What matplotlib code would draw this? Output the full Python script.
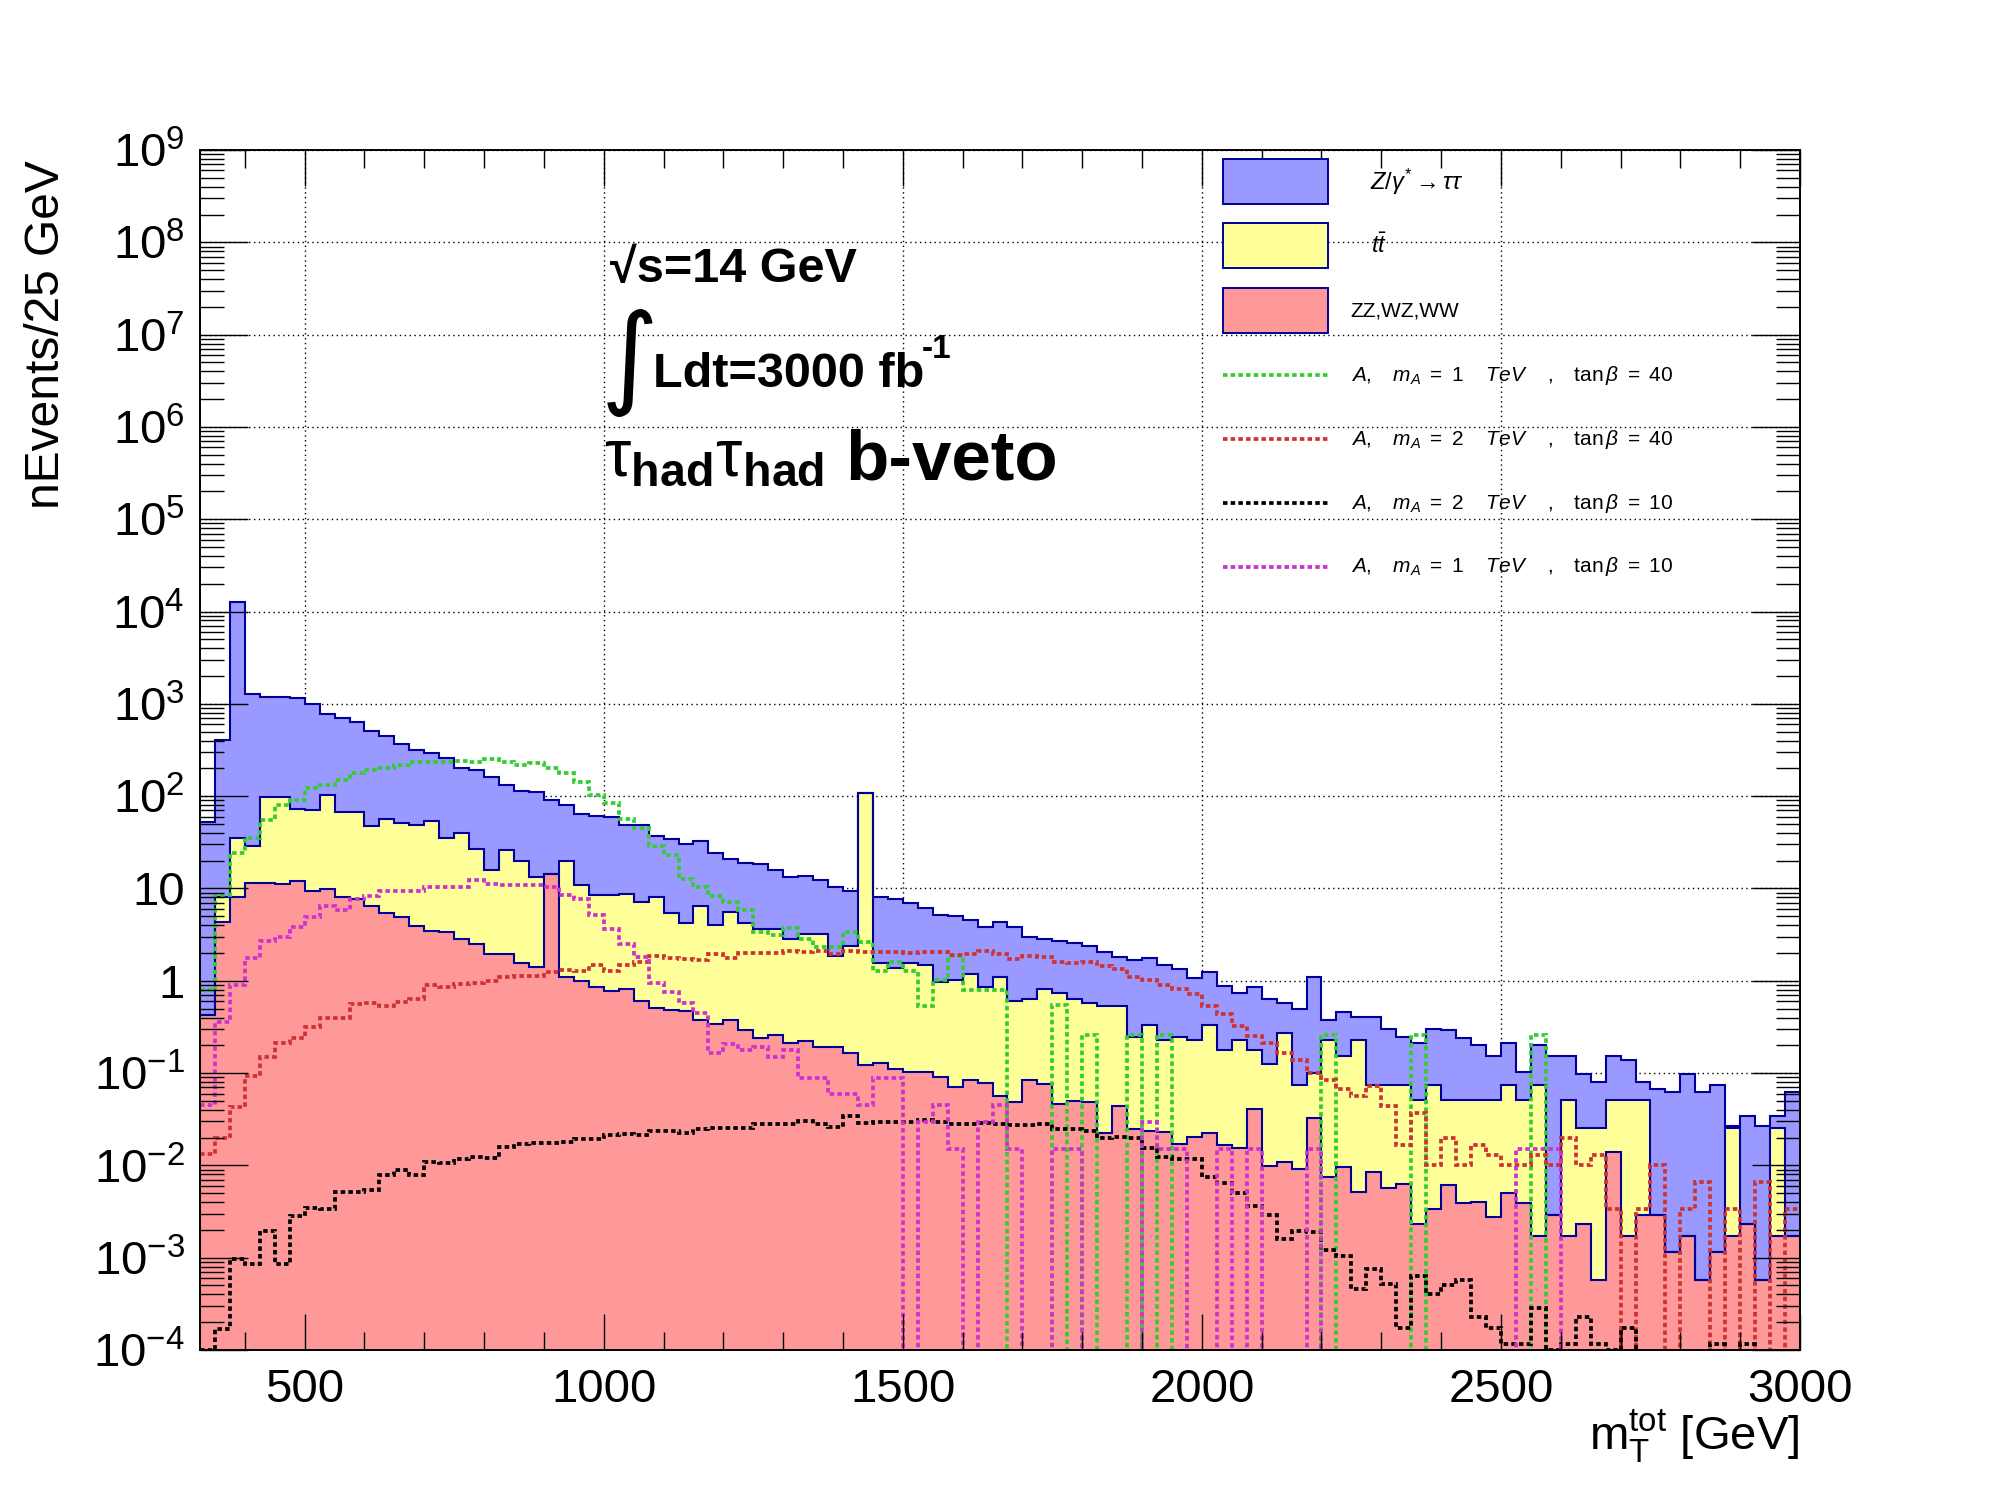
import numpy as np
import matplotlib
matplotlib.use("Agg")
import matplotlib.pyplot as plt
from matplotlib.ticker import LogLocator, MultipleLocator, NullFormatter
from matplotlib.patches import Rectangle
from matplotlib.lines import Line2D

plt.rcParams['font.family'] = ['Liberation Sans', 'DejaVu Sans']
plt.rcParams['mathtext.fontset'] = 'custom'
plt.rcParams['mathtext.rm'] = 'Liberation Sans'
plt.rcParams['mathtext.it'] = 'Liberation Sans:italic'
plt.rcParams['mathtext.bf'] = 'Liberation Sans:bold'

# ---------------- data ----------------
bin_edges = np.arange(325, 3001, 25)   # 107 bins of 25 GeV

ztautau = [51.6, 393, 12765, 1265, 1073, 1102, 1078, 921, 681, 644,
           566, 466, 397, 312, 264, 243, 221, 164, 167, 147.3,
           105, 95, 98.8, 75.8, 61, 53.1, 52.5, 50.6, 40.2, 41.8,
           28.6, 28.6, 25.8, 26.5, 20.5, 15.1, 14.5, 14.6, 12.1, 10.4,
           10.6, 9.0, 8.46, 6.9, 0, 6.46, 6.24, 5.36, 4.60, 4.12,
           3.95, 3.33, 2.93, 3.17, 3.18, 2.32, 2.0, 1.94, 1.91, 1.79,
           1.50, 1.26, 1.411, 1.422, 1.274, 1.081, 0.834, 0.902, 0.694, 0.504,
           0.674, 0.506, 0.305, 0.415, 1.011, 0.146, 0.302, 0.184, 0.335, 0.222,
           0.168, 0.159, 0.222, 0.239, 0.192, 0.153, 0.104, 0.135, 0.0514, 0.125,
           0.149, 0.101, 0.0718, 0.0558, 0.104, 0.0864, 0.0304, 0.0651, 0.0609, 0.0953,
           0.0614, 0.0739, 0.0018, 0.0317, 0.0264, 0.0088, 0.0603]

ttbar = [0, 3.64, 26.8, 17.4, 87.4, 86.7, 61.1, 60.5, 94.3, 59,
         59.4, 41.5, 51.6, 46.2, 45.1, 50.5, 31.6, 37.2, 24.5, 13.77,
         24.07, 18.43, 11.78, 0, 18.9, 9.9, 7.64, 7.63, 7.99, 6.59,
         7.49, 4.92, 3.73, 6.12, 3.66, 5.12, 3.91, 3.363, 3.344, 2.59,
         2.98, 3.01, 1.65, 2.237, 106.9, 1.413, 1.248, 1.438, 1.366, 0.89,
         0.96, 1.085, 0.771, 1.053, 0.5515, 0.545, 0.728, 0.684, 0.58, 0.5215,
         0.5076, 0.486, 0.2242, 0.3044, 0.203, 0.232, 0.2057, 0.3056, 0.1594, 0.2106,
         0.1353, 0.1142, 0.2641, 0.0659, 0.0664, 0.2185, 0.1424, 0.2209, 0.0665, 0.0693,
         0.0687, 0.0483, 0.0716, 0.0444, 0.0467, 0.0466, 0.0479, 0.070, 0.0467, 0.0733,
         0, 0.0489, 0.0229, 0.0246, 0.0368, 0.0489, 0.0477, 0, 0, 0,
         0, 0, 0.0235, 0, 0, 0.0235, 0]

diboson = [0.43, 4.36, 8.0, 11.6, 11.6, 11.3, 11.9, 9.5, 9.75, 8.0,
           7.6, 6.5, 5.4, 4.85, 3.9, 3.5, 3.4, 2.8, 2.5, 1.93,
           1.93, 1.57, 1.42, 14.2, 1.10, 1.0, 0.86, 0.77, 0.81, 0.61,
           0.51, 0.48, 0.47, 0.38, 0.34, 0.38, 0.29, 0.237, 0.256, 0.21,
           0.22, 0.19, 0.19, 0.163, 0.121, 0.127, 0.112, 0.102, 0.104, 0.090,
           0.070, 0.085, 0.079, 0.057, 0.0485, 0.085, 0.077, 0.046, 0.050, 0.0485,
           0.0224, 0.044, 0.0248, 0.0236, 0.023, 0.017, 0.0203, 0.0224, 0.0166, 0.0154,
           0.0407, 0.0098, 0.0109, 0.0091, 0.0326, 0.0075, 0.0096, 0.0051, 0.0085, 0.0057,
           0.0063, 0.0023, 0.0034, 0.0062, 0.0039, 0.0040, 0.00274, 0.0050, 0.0039, 0.0017,
           0.00287, 0.0017, 0.0023, 0.00057, 0.0138, 0.0017, 0.00287, 0.00287, 0.00114, 0.0017,
           0.00057, 0.00114, 0.0017, 0.0023, 0.00057, 0.0017, 0.0017]

sig_m1_tb40 = [0.8, 8.5, 24.5, 35, 55, 80, 90, 124, 131, 148,
               180, 194, 204, 220, 232, 237, 232, 243, 237, 250,
               232, 220, 226, 204, 180, 144, 104, 85, 56, 44.7,
               29.2, 22.8, 12.8, 10.3, 8.2, 7.2, 5.8, 3.4, 3.1, 3.7,
               2.87, 2.35, 2.35, 3.4, 2.6, 1.29, 1.58, 1.29, 0.53, 1.03,
               1.84, 0.79, 0.79, 0.79, 0, 0, 0, 0.54, 0, 0.26,
               0, 0, 0.26, 0, 0.26, 0, 0, 0, 0, 0,
               0, 0, 0, 0, 0, 0.26, 0, 0, 0, 0,
               0, 0.26, 0, 0, 0, 0, 0, 0, 0, 0.26,
               0, 0, 0, 0, 0, 0, 0, 0, 0, 0,
               0, 0, 0, 0, 0, 0, 0]

sig_m2_tb40 = [0.0134, 0.0196, 0.0425, 0.092, 0.148, 0.211, 0.239, 0.315, 0.394, 0.40,
               0.56, 0.57, 0.53, 0.59, 0.63, 0.90, 0.85, 0.92, 0.94, 0.99,
               1.11, 1.13, 1.13, 1.23, 1.31, 1.28, 1.47, 1.29, 1.50, 1.58,
               1.84, 1.75, 1.70, 1.66, 1.93, 1.75, 1.98, 1.98, 1.98, 2.08,
               2.03, 2.08, 1.93, 2.08, 2.03, 2.03, 2.03, 1.98, 2.03, 2.03,
               1.88, 1.93, 2.08, 1.93, 1.70, 1.84, 1.79, 1.58, 1.54, 1.58,
               1.43, 1.33, 1.11, 1.03, 0.89, 0.805, 0.71, 0.53, 0.44, 0.32,
               0.25, 0.21, 0.163, 0.14, 0.10, 0.085, 0.0665, 0.0558, 0.0718, 0.0436,
               0.0166, 0.0366, 0.01, 0.0196, 0.01, 0.0166, 0.0131, 0.01, 0.01, 0.0131,
               0.01, 0.0196, 0.01, 0.0131, 0.00333, 0, 0.00333, 0.01, 0, 0.00333,
               0.00655, 0, 0.00333, 0, 0.00655, 0, 0.00333]

sig_m2_tb10 = [1.0e-4, 1.7e-4, 9.8e-4, 8.6e-4, 1.96e-3, 8.6e-4, 2.85e-3, 3.48e-3, 3.4e-3, 5.19e-3,
               5.1e-3, 5.45e-3, 7.9e-3, 8.97e-3, 7.9e-3, 0.011, 0.0105, 0.0118, 0.0124, 0.012,
               0.0159, 0.0172, 0.0176, 0.0176, 0.018, 0.0195, 0.0195, 0.0215, 0.022, 0.0215,
               0.0237, 0.0237, 0.0225, 0.025, 0.0255, 0.0255, 0.0255, 0.0283, 0.0283, 0.028,
               0.0305, 0.028, 0.0262, 0.0345, 0.029, 0.0297, 0.0297, 0.0297, 0.031, 0.0297,
               0.0283, 0.028, 0.029, 0.0283, 0.0274, 0.0274, 0.028, 0.0248, 0.025, 0.0236,
               0.0198, 0.0203, 0.0198, 0.0154, 0.0123, 0.0117, 0.0117, 0.0075, 0.0064, 0.005,
               0.0036, 0.0029, 0.0016, 0.00195, 0.0019, 0.00121, 0.00104, 0.00046, 0.00075, 0.00052,
               0.000173, 0.00063, 0.0004, 0.00051, 0.00057, 0.000226, 0.000172, 0.000115, 0.000115, 0.000283,
               0.0001, 0.000115, 0.000226, 0.000115, 0.0001, 0.000172, 0, 0, 0, 0,
               0, 0.000115, 0, 0.000115, 0, 0, 0]

sig_m1_tb10 = [0.045, 0.354, 0.89, 1.75, 2.73, 2.95, 3.87, 4.85, 6.4, 5.9,
               7.6, 8.2, 9.5, 9.5, 9.5, 10.5, 10.3, 10.5, 12.2, 11.3,
               10.8, 11.0, 11.0, 10.3, 8.5, 7.6, 5.2, 3.6, 2.5, 1.79,
               0.94, 0.75, 0.58, 0.45, 0.167, 0.204, 0.18, 0.19, 0.151, 0.176,
               0.0875, 0.0875, 0.059, 0.059, 0.0447, 0.0875, 0.0875, 0, 0.0297, 0.0447,
               0.0149, 0, 0.0297, 0.0447, 0.015, 0, 0, 0.015, 0.015, 0,
               0, 0, 0, 0.0294, 0.015, 0.015, 0, 0, 0.015, 0,
               0.015, 0, 0, 0, 0.015, 0, 0, 0, 0, 0,
               0, 0, 0, 0, 0, 0, 0, 0, 0.015, 0.015,
               0.015, 0, 0, 0, 0, 0, 0, 0, 0, 0,
               0, 0, 0, 0, 0, 0, 0]

bkg_labels = [r"$Z/\gamma^{*}\rightarrow\tau\tau$", r"$t\bar{t}$", "ZZ,WZ,WW"]
sig_labels = [r"$A,\ \ \ m_{A}\ =\ 1\ \ \ \ TeV\ \ \ \ ,\ \ \ \mathrm{tan}\,\beta\ =\ 40$",
              r"$A,\ \ \ m_{A}\ =\ 2\ \ \ \ TeV\ \ \ \ ,\ \ \ \mathrm{tan}\,\beta\ =\ 40$",
              r"$A,\ \ \ m_{A}\ =\ 2\ \ \ \ TeV\ \ \ \ ,\ \ \ \mathrm{tan}\,\beta\ =\ 10$",
              r"$A,\ \ \ m_{A}\ =\ 1\ \ \ \ TeV\ \ \ \ ,\ \ \ \mathrm{tan}\,\beta\ =\ 10$"]
x_ticks = [500, 1000, 1500, 2000, 2500, 3000]
y_ticks = [1e-4, 1e-3, 1e-2, 1e-1, 1, 10, 1e2, 1e3, 1e4, 1e5, 1e6, 1e7, 1e8, 1e9]
y_ticklabels = [r"$10^{-4}$", r"$10^{-3}$", r"$10^{-2}$", r"$10^{-1}$", "1", "10",
                r"$10^{2}$", r"$10^{3}$", r"$10^{4}$", r"$10^{5}$", r"$10^{6}$",
                r"$10^{7}$", r"$10^{8}$", r"$10^{9}$"]

# ---------------- style ----------------
bkg_colors = ['#9999ff', '#ffff99', '#ff9999']
edge_col = '#000099'
sig_colors = ['#33cc33', '#cc3333', '#000000', '#cc33cc']
dot = (0, (1.2, 0.85))
sig_lw = 2.7
floor = 1e-7

fig = plt.figure(figsize=(20, 15), dpi=100)
ax = fig.add_axes([0.1, 0.1, 0.8, 0.8])
ax.set_yscale('log')
ax.set_xlim(325, 3000)
ax.set_ylim(1e-4, 1e9)

z = np.array(ztautau, float)
tt = np.array(ttbar, float)
vv = np.array(diboson, float)
lvl_vv = vv
lvl_tt = vv + tt
lvl_z = vv + tt + z

for lvl, col, zo in [(lvl_z, bkg_colors[0], 0.6), (lvl_tt, bkg_colors[1], 0.7), (lvl_vv, bkg_colors[2], 0.8)]:
    ax.stairs(lvl, bin_edges, baseline=floor, fill=True, facecolor=col, edgecolor='none', zorder=zo)
for lvl in (lvl_z, lvl_tt, lvl_vv):
    ax.stairs(lvl, bin_edges, baseline=None, color=edge_col, lw=1.5, zorder=0.9)

for vals, col in zip([sig_m1_tb40, sig_m2_tb40, sig_m2_tb10, sig_m1_tb10], sig_colors):
    v = np.clip(np.array(vals, float), floor, None)
    ax.stairs(v, bin_edges, baseline=None, color=col, lw=sig_lw, linestyle=dot, zorder=1.0)

# grid (dotted, under the histograms)
for xv in x_ticks:
    ax.axvline(xv, color='k', lw=1.0, ls=(0, (1, 2.5)), zorder=0.5)
for yv in y_ticks:
    ax.axhline(yv, color='k', lw=1.0, ls=(0, (1, 2.5)), zorder=0.5)

ax.set_axisbelow(False)
for s in ax.spines.values():
    s.set_linewidth(1.4)
    s.set_zorder(3)

ax.set_xticks(x_ticks)
ax.set_xticklabels([str(t) for t in x_ticks])
ax.xaxis.set_minor_locator(MultipleLocator(100))
ax.set_yticks(y_ticks)
ax.set_yticklabels(y_ticklabels)
ax.yaxis.set_minor_locator(LogLocator(base=10, subs=np.arange(2, 10), numticks=100))
ax.yaxis.set_minor_formatter(NullFormatter())

ax.xaxis.set_tick_params(which='major', direction='in', length=26, width=1.0,
                         top=True, bottom=True, labelsize=34, pad=13)
ax.xaxis.set_tick_params(which='minor', direction='in', length=13, width=1.0,
                         top=True, bottom=True)
ax.yaxis.set_tick_params(which='major', direction='in', length=34.6, width=1.0,
                         left=True, right=True, labelsize=34, pad=11)
ax.yaxis.set_tick_params(which='minor', direction='in', length=17.3, width=1.0,
                         left=True, right=True)

# axis titles
fig.text(0.0235, 0.893, "nEvents/25 GeV", rotation=90, ha='center', va='top', fontsize=34.5)
fig.text(0.8997, 0.0335, r"$\mathrm{m}_{\mathrm{T}}^{\mathrm{tot}}$ [GeV]", ha='right',
         va='baseline', fontsize=34)

# annotation block
ax.text(0.2563, 0.8903, "\u221as=14 GeV", transform=ax.transAxes, fontsize=35,
        fontweight='bold', ha='left', va='baseline', family=['Liberation Sans', 'DejaVu Sans'])
ax.text(0.2505, 0.8225, "\u222b", transform=ax.transAxes, fontsize=80, ha='left',
        va='center', family=['DejaVu Sans'])
ax.text(0.2830, 0.8028, "Ldt=3000 fb", transform=ax.transAxes, fontsize=35,
        fontweight='bold', ha='left', va='baseline')
ax.text(0.4514, 0.8267, "-1", transform=ax.transAxes, fontsize=24,
        fontweight='bold', ha='left', va='baseline')
ax.text(0.2524, 0.729, r"$\mathrm{\tau}_{\mathbf{had}}\mathrm{\tau}_{\mathbf{had}}$",
        transform=ax.transAxes, fontsize=48, ha='left', va='baseline')
ax.text(0.4035, 0.725, "b-veto", transform=ax.transAxes, fontsize=51,
        fontweight='bold', ha='left', va='baseline')

# legend (drawn by hand, ROOT-like)
bx0, bw, bh = 0.6393, 0.0659, 0.0375
box_centers = [0.9735, 0.9201, 0.8660]
text_x_bkg = [0.7311, 0.7317, 0.7191]
text_fs_bkg = [17, 17, 15]
for yc, col, lab, tx, fs in zip(box_centers, bkg_colors, bkg_labels, text_x_bkg, text_fs_bkg):
    ax.add_patch(Rectangle((bx0, yc - bh / 2), bw, bh, transform=ax.transAxes,
                           facecolor=col, edgecolor=edge_col, lw=1.4, zorder=4))
    ax.text(tx, yc, lab, transform=ax.transAxes, fontsize=fs, ha='left', va='center', zorder=4)
line_ys = [0.8123, 0.7589, 0.7058, 0.6525]
for yc, col, lab in zip(line_ys, sig_colors, sig_labels):
    ax.add_line(Line2D([bx0, bx0 + bw], [yc, yc], transform=ax.transAxes, color=col,
                       lw=sig_lw, linestyle=dot, zorder=4))
    ax.text(0.7191, yc, lab, transform=ax.transAxes, fontsize=15, ha='left', va='center', zorder=4)

fig.savefig("out.png", dpi=100)
